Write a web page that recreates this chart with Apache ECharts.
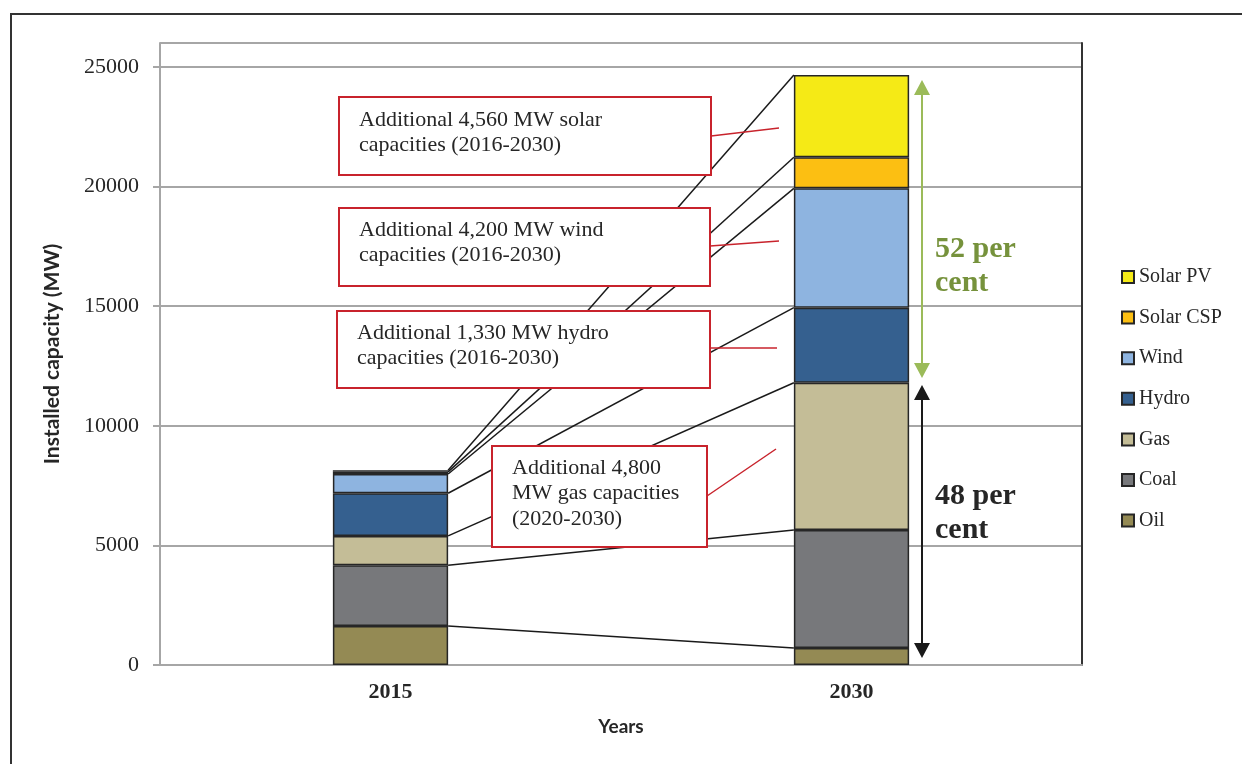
<!DOCTYPE html>
<html>
<head>
<meta charset="utf-8">
<script src="https://cdn.jsdelivr.net/npm/echarts@6/dist/echarts.min.js"></script>
<style>
  html, body { margin: 0; padding: 0; background: #fff; }
  #chart { width: 1242px; height: 764px; }
</style>
</head>
<body>
<div id="chart"></div>
<script>
// installed capacity (MW) by source
const years = ['2015', '2030'];
const oil = [1630, 710];
const coal = [2540, 4930];
const gas = [1225, 6160];
const hydro = [1785, 3135];
const wind = [805, 4990];
const solarCsp = [90, 1300];
const solarPv = [70, 3440];
const yTicks = [0, 5000, 10000, 15000, 20000, 25000];

const stackNames = ['Oil', 'Coal', 'Gas', 'Hydro', 'Wind', 'Solar CSP', 'Solar PV'];
const stackData = [oil, coal, gas, hydro, wind, solarCsp, solarPv];
const stackColors = ['#948A54', '#77787B', '#C4BD97', '#35608F', '#8EB4E0', '#FCBF12', '#F5EA16'];

const SERIF = '"Liberation Serif", "DejaVu Serif", serif';
const SANS = 'Lato, "Noto Sans", sans-serif';
const BAR_FRAC = 0.25;
const RED = '#C8232C';

// running tops of each stack for the series lines
const tops = [];
let run = [0, 0];
stackData.forEach((arr) => {
  run = [run[0] + arr[0], run[1] + arr[1]];
  tops.push([0, run[0], run[1]]);
});

const chart = echarts.init(document.getElementById('chart'));

const barSeries = stackNames.map((name, i) => ({
  name,
  type: 'bar',
  stack: 'cap',
  barWidth: BAR_FRAC * 100 + '%',
  data: stackData[i],
  itemStyle: { color: stackColors[i], borderColor: '#262626', borderWidth: 1.5 },
  z: 3,
}));

function box(x, y, w, h, text, tx, ty, lx1, ly1, lx2, ly2) {
  return [
    {
      type: 'rect', z: 100,
      shape: { x, y, width: w, height: h },
      style: { fill: '#fff', stroke: RED, lineWidth: 2 },
    },
    {
      type: 'text', z: 101, x: tx, y: ty,
      style: { text, font: '22px ' + SERIF, fill: '#262626', lineHeight: 25.5, verticalAlign: 'top' },
    },
    {
      type: 'line', z: 101,
      shape: { x1: lx1, y1: ly1, x2: lx2, y2: ly2 },
      style: { stroke: RED, lineWidth: 1.5 },
    },
  ];
}

function arrow(x, y1, y2, color) {
  const h = 15, w = 8;
  return [
    { type: 'line', z: 100, shape: { x1: x, y1: y1 + 4, x2: x, y2: y2 - 4 }, style: { stroke: color, lineWidth: 2 } },
    { type: 'polygon', z: 100, shape: { points: [[x, y1], [x - w, y1 + h], [x + w, y1 + h]] }, style: { fill: color } },
    { type: 'polygon', z: 100, shape: { points: [[x, y2], [x - w, y2 - h], [x + w, y2 - h]] }, style: { fill: color } },
  ];
}

chart.setOption({
  animation: false,
  grid: { left: 160, right: 160, top: 43, bottom: 99 },
  legend: {
    orient: 'vertical',
    left: 1116,
    top: 262,
    icon: 'rect',
    itemWidth: 12,
    itemHeight: 12,
    itemGap: 20.6,
    data: stackNames.slice().reverse(),
    textStyle: { fontFamily: SERIF, fontSize: 20, lineHeight: 20, color: '#262626' },
  },
  xAxis: {
    type: 'category',
    data: years,
    name: 'Years',
    nameLocation: 'middle',
    nameGap: 52,
    nameTextStyle: { fontFamily: SANS, fontWeight: 'bold', fontSize: 19, color: '#262626', verticalAlign: 'top' },
    axisLine: { lineStyle: { color: '#A6A6A6', width: 2 } },
    axisTick: { show: false },
    axisLabel: { fontFamily: SERIF, fontWeight: 'bold', fontSize: 22, color: '#262626', margin: 16 },
  },
  yAxis: [
    {
      type: 'value',
      min: 0,
      max: 26000,
      interval: 5000,
      name: 'Installed capacity (MW)',
      nameLocation: 'middle',
      nameGap: 97,
      nameTextStyle: { fontFamily: SANS, fontWeight: 'bold', fontSize: 21, color: '#262626' },
      axisLine: { show: true, lineStyle: { color: '#A6A6A6', width: 2 } },
      axisTick: { show: true, length: 7, lineStyle: { color: '#A6A6A6', width: 2 } },
      axisLabel: {
        fontFamily: SERIF, fontSize: 22, color: '#262626', margin: 21,
        showMaxLabel: false,
        formatter: (v) => (yTicks.includes(v) ? String(v) : ''),
      },
      splitLine: { show: true, lineStyle: { color: '#A6A6A6', width: 2 } },
    },
    {
      type: 'value',
      min: 0,
      max: 26000,
      position: 'right',
      axisLine: { show: true, lineStyle: { color: '#333', width: 2 } },
      axisTick: { show: false },
      axisLabel: { show: false },
      splitLine: { show: false },
    },
  ],
  series: [
    ...barSeries,
    {
      type: 'custom',
      z: 2,
      silent: true,
      encode: { x: 0, y: 1 },
      data: tops,
      renderItem: (params, api) => {
        const a = api.coord([0, api.value(1)]);
        const b = api.coord([1, api.value(2)]);
        const hw = api.size([1, 0])[0] * BAR_FRAC / 2;
        return {
          type: 'line',
          shape: { x1: a[0] + hw, y1: a[1], x2: b[0] - hw, y2: b[1] },
          style: { stroke: '#1a1a1a', lineWidth: 1.5 },
        };
      },
    },
  ],
  graphic: [
    { type: 'rect', z: 0, shape: { x: 11, y: 14, width: 1400, height: 900 }, style: { fill: 'none', stroke: '#333', lineWidth: 2 } },
    ...box(339, 97, 372, 78, 'Additional 4,560 MW solar\ncapacities (2016-2030)', 359, 107, 711, 136, 779, 128),
    ...box(339, 208, 371, 78, 'Additional 4,200 MW wind\ncapacities (2016-2030)', 359, 217, 710, 246, 779, 241),
    ...box(337, 311, 373, 77, 'Additional 1,330 MW hydro\ncapacities (2016-2030)', 357, 320, 710, 348, 777, 348),
    ...box(492, 446, 215, 101, 'Additional 4,800\nMW gas capacities\n(2020-2030)', 512, 455, 707, 496, 776, 449),
    ...arrow(922, 80, 378, '#9BBB59'),
    ...arrow(922, 385, 658, '#1a1a1a'),
    {
      type: 'text', z: 101, x: 935, y: 232,
      style: { text: '52 per\ncent', font: 'bold 30px ' + SERIF, fill: '#76923C', lineHeight: 34, verticalAlign: 'top' },
    },
    {
      type: 'text', z: 101, x: 935, y: 479,
      style: { text: '48 per\ncent', font: 'bold 30px ' + SERIF, fill: '#262626', lineHeight: 34, verticalAlign: 'top' },
    },
  ],
});
</script>
</body>
</html>
